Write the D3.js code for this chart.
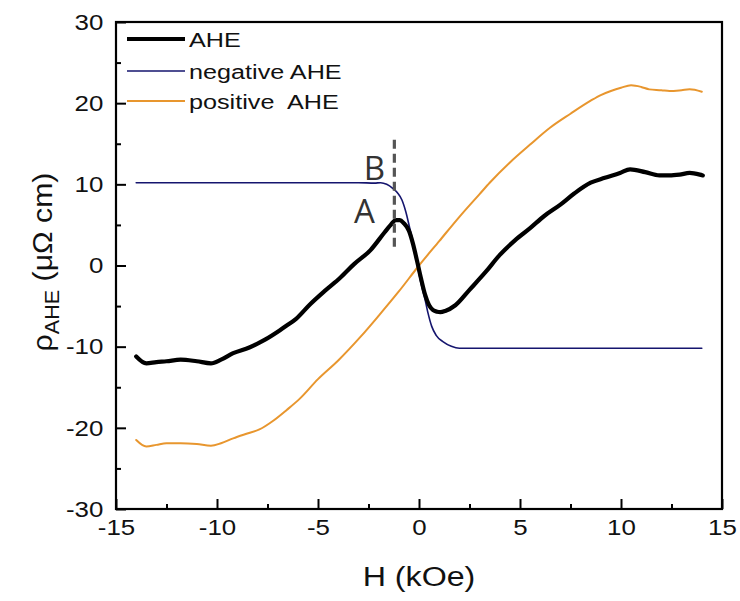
<!DOCTYPE html>
<html><head><meta charset="utf-8">
<script src="https://cdn.jsdelivr.net/npm/d3@7"></script>
<style>body{margin:0;background:#fff}svg{display:block}text{font-family:"Liberation Sans",Arial,sans-serif}</style>
</head><body><svg id="c" width="740" height="601"></svg>
<script>
const ahe_H = [-14,-13.5,-13,-12.5,-11.8,-11,-10.3,-9.8,-9.2,-8.4,-7.9,-7.6,-6.9,-6.55,-6.1,-5.4,-4.65,-3.9,-3.2,-2.4,-1.7,-1.4,-1.15,-0.95,-0.75,-0.5,-0.3,-0.1,0.1,0.3,0.5,0.7,0.9,1.05,1.3,1.8,2.5,3.3,4.0,4.75,5.5,6.2,7.0,7.7,8.5,9.2,9.95,10.45,11.2,11.9,12.4,12.9,13.4,13.9,14.05];
const ahe_V = [-11.2,-12.05,-11.9,-11.8,-11.6,-11.8,-12.05,-11.6,-10.8,-10.1,-9.5,-9.1,-8.0,-7.4,-6.6,-4.8,-3.1,-1.5,0.2,1.9,4.1,5.0,5.6,5.6,5.2,4.3,2.7,0.6,-1.6,-3.6,-4.9,-5.5,-5.7,-5.75,-5.6,-4.9,-3.0,-0.8,1.3,3.1,4.6,6.1,7.5,8.9,10.2,10.8,11.4,11.85,11.5,11.1,11.1,11.2,11.4,11.2,11.1];
const neg_H = [-14,-10,-6,-3,-2.2,-1.9,-1.6,-1.3,-1.05,-0.85,-0.65,-0.44,-0.25,-0.1,0.1,0.3,0.45,0.63,0.85,1.2,1.6,2.0,3,6,10,14];
const neg_V = [10.2,10.2,10.2,10.2,10.15,10.2,10.0,9.5,8.9,8.1,6.6,4.4,2.4,0.3,-2.2,-4.2,-5.9,-7.5,-8.6,-9.4,-9.95,-10.2,-10.2,-10.2,-10.2,-10.2];
const pos_H = [-14,-13.5,-13,-12.5,-11.8,-11,-10.3,-9.8,-9.2,-8.5,-7.9,-7.2,-6.55,-5.9,-5,-4,-2.9,-2,-1,0,1,2,3,3.5,4.5,5.5,6.5,7.5,8.5,9,9.5,10,10.5,11,11.4,12,12.4,13,13.4,14];
const pos_V = [-21.5,-22.3,-22.1,-21.9,-21.9,-22.0,-22.2,-21.9,-21.3,-20.7,-20.2,-19.1,-17.8,-16.4,-14.0,-11.7,-8.8,-6.2,-3.2,0.0,3.0,6.0,8.8,10.2,12.7,14.9,17.0,18.7,20.3,21.0,21.5,21.9,22.2,22.0,21.7,21.6,21.5,21.6,21.7,21.4];
const xTicks = [-15,-10,-5,0,5,10,15];
const yTicks = [-30,-20,-10,0,10,20,30];
const seriesNames = ["AHE","negative AHE","positive  AHE"];
const seriesColors = ["#000000","#15156e","#e8962e"];
const markerH = -1.22, markerRange = [1.7, 15.5];

const svg = d3.select("#c");
const L=116,R=722,T=22,B=509;
const x = d3.scaleLinear().domain([-15,15]).range([L,R]);
const y = d3.scaleLinear().domain([-30,30]).range([B,T]);

const line = d3.line().x(d=>x(d[0])).y(d=>y(d[1])).curve(d3.curveMonotoneX);
const series = [
  {H:pos_H,V:pos_V,c:seriesColors[2],w:2},
  {H:neg_H,V:neg_V,c:seriesColors[1],w:1.6},
  {H:ahe_H,V:ahe_V,c:seriesColors[0],w:4.2}
];
series.forEach(s=>{
  svg.append("path").attr("d",line(d3.zip(s.H,s.V))).attr("fill","none")
    .attr("stroke",s.c).attr("stroke-width",s.w).attr("stroke-linejoin","round").attr("stroke-linecap","round");
});

// dashed marker
svg.append("line").attr("x1",x(markerH)).attr("x2",x(markerH)).attr("y1",y(markerRange[1])).attr("y2",y(markerRange[0]))
  .attr("stroke","#555").attr("stroke-width",3.2).attr("stroke-dasharray","9,5");
svg.append("text").attr("x",x(markerH)-20).attr("y",y(10.5)).attr("text-anchor","middle")
  .style("font-family","'Open Sans',sans-serif").style("font-size","33px").attr("fill","#333").text("B");
svg.append("text").attr("x",x(markerH)-30).attr("y",y(5.2)).attr("text-anchor","middle")
  .style("font-family","'Open Sans',sans-serif").style("font-size","33px").attr("fill","#333").text("A");

// frame
svg.append("rect").attr("x",L).attr("y",T).attr("width",R-L).attr("height",B-T)
  .attr("fill","none").attr("stroke","#000").attr("stroke-width",2.2);

// axes
const fmt = d => String(d);
const xa = svg.append("g").attr("transform",`translate(0,${B})`)
  .call(d3.axisBottom(x).tickValues(xTicks).tickFormat(fmt).tickSize(-10).tickPadding(10));
const xm = svg.append("g").attr("transform",`translate(0,${B})`)
  .call(d3.axisBottom(x).tickValues(d3.range(-12.5,15,5)).tickFormat("").tickSize(-5));
const ya = svg.append("g").attr("transform",`translate(${L},0)`)
  .call(d3.axisLeft(y).tickValues(yTicks).tickFormat(fmt).tickSize(-10).tickPadding(11));
const ym = svg.append("g").attr("transform",`translate(${L},0)`)
  .call(d3.axisLeft(y).tickValues(d3.range(-25,30,10)).tickFormat("").tickSize(-5));
[xa,xm,ya,ym].forEach(g=>{
  g.select(".domain").remove();
  g.selectAll("line").attr("stroke","#000").attr("stroke-width",2);
  g.selectAll("text").style("font-size","22.5px").style("font-family","'Liberation Sans',Arial,sans-serif").attr("fill","#111")
    .attr("transform","scale(1.15,1)");
});

// titles
svg.append("text").attr("transform",`translate(${x(0)},586) scale(1.15,1)`).attr("text-anchor","middle").style("font-size","28px").attr("fill","#111").text("H (kOe)");
const yt = svg.append("text").attr("transform","translate(52,262) rotate(-90) scale(1.08,1)").attr("text-anchor","middle").style("font-size","28px").attr("fill","#111");
yt.append("tspan").text("ρ");
yt.append("tspan").attr("dy",7).style("font-size","20px").text("AHE");
yt.append("tspan").attr("dy",-7).text(" (μΩ cm)");

// legend
const legY = [39,71,101];
const legW = [4.2,1.6,2];
seriesNames.forEach((n,i)=>{
  svg.append("line").attr("x1",127).attr("x2",185).attr("y1",legY[i]).attr("y2",legY[i]).attr("stroke",seriesColors[i]).attr("stroke-width",legW[i]);
  svg.append("text").attr("transform",`translate(189,${legY[i]+7.5}) scale(1.2,1)`).style("font-size","21px").style("white-space","pre").attr("xml:space","preserve").attr("fill","#111").text(n);
});
</script></body></html>
